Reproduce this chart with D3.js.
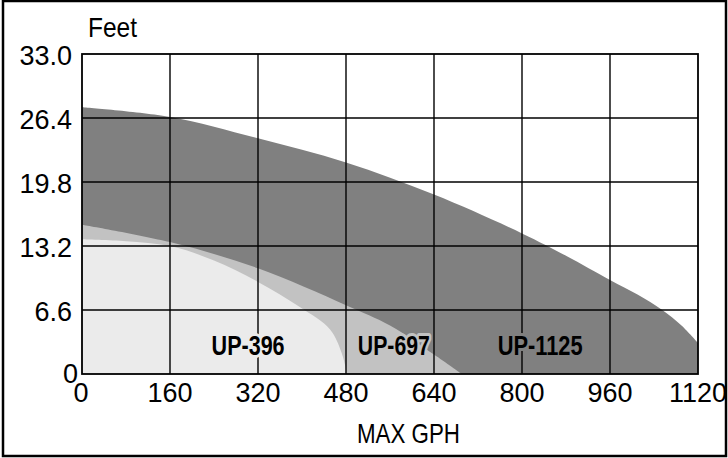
<!DOCTYPE html>
<html>
<head>
<meta charset="utf-8">
<script src="https://cdn.jsdelivr.net/npm/d3@7/dist/d3.min.js"></script>
<style>
  body { margin: 0; background: #fff; }
  svg { display: block; }
  text { font-family: "Liberation Sans", Arial, sans-serif; fill: #000; }
  .tick-label { font-size: 27px; }
</style>
</head>
<body>
<svg id="chart" width="728" height="458"></svg>
<script>
const X_TICKS = [0, 160, 320, 480, 640, 800, 960, 1120];
const Y_TICKS = [0, 6.6, 13.2, 19.8, 26.4, 33.0];

const MODELS = ["UP-396", "UP-697", "UP-1125"];

// performance curves (gph, feet)
const UP396_GPH  = [0, 80, 160, 240, 320, 396, 451, 472, 482];
const UP396_FEET = [13.9, 13.7, 13.2, 11.7, 9.5, 6.9, 4.6, 2.2, 0];

const UP697_GPH  = [0, 160, 320, 480, 560, 640, 690];
const UP697_FEET = [15.4, 13.6, 10.9, 7.1, 5.0, 2.0, 0];

const UP1125_GPH  = [0, 160, 320, 480, 640, 800, 880, 960, 1010, 1055, 1090, 1120];
const UP1125_FEET = [27.5, 26.5, 24.3, 21.8, 18.5, 14.5, 12.2, 9.7, 8.2, 6.6, 5.0, 3.2];

// where each model name sits (gph, feet) and its drawn width
const LABEL_GPH = [302, 567, 833];
const LABEL_FEET = [1.95, 1.95, 1.95];
const LABEL_WIDTH = [73, 72, 85];

const COLORS = ["#ebebeb", "#c2c2c2", "#808080"];

const MARGIN = { top: 54, right: 30, bottom: 84, left: 82 };
const FULL_WIDTH = 728;
const FULL_HEIGHT = 458;

const svg = d3.select("#chart");

const x = d3.scaleLinear().domain([0, 1120]).range([MARGIN.left, FULL_WIDTH - MARGIN.right]);
const y = d3.scaleLinear().domain([0, 33]).range([FULL_HEIGHT - MARGIN.bottom, MARGIN.top]);

// outer frame
svg.append("rect")
  .attr("x", 3).attr("y", 1)
  .attr("width", FULL_WIDTH - 5).attr("height", FULL_HEIGHT - 3)
  .attr("fill", "none").attr("stroke", "#000").attr("stroke-width", 2.5);

const series = [
  { gph: UP1125_GPH, feet: UP1125_FEET, color: COLORS[2] },
  { gph: UP697_GPH, feet: UP697_FEET, color: COLORS[1] },
  { gph: UP396_GPH, feet: UP396_FEET, color: COLORS[0] },
];

const area = d3.area()
  .curve(d3.curveCatmullRom.alpha(0.5))
  .x((d) => x(d[0]))
  .y0(y(0))
  .y1((d) => y(d[1]));

svg.append("g")
  .selectAll("path")
  .data(series)
  .join("path")
  .attr("d", (s) => area(d3.zip(s.gph, s.feet)))
  .attr("fill", (s) => s.color);

// grid
const grid = svg.append("g").attr("stroke", "#000").attr("stroke-width", 1.4);
grid.selectAll("line.v")
  .data(X_TICKS.slice(1, -1))
  .join("line")
  .attr("class", "v")
  .attr("x1", (d) => x(d)).attr("x2", (d) => x(d))
  .attr("y1", y(0)).attr("y2", y(33));
grid.selectAll("line.h")
  .data(Y_TICKS.slice(1, -1))
  .join("line")
  .attr("class", "h")
  .attr("x1", x(0)).attr("x2", x(1120))
  .attr("y1", (d) => y(d)).attr("y2", (d) => y(d));

svg.append("rect")
  .attr("x", x(0)).attr("y", y(33))
  .attr("width", x(1120) - x(0)).attr("height", y(0) - y(33))
  .attr("fill", "none").attr("stroke", "#000").attr("stroke-width", 1.8);

// model labels with halo in region colour
svg.append("g")
  .selectAll("text")
  .data(MODELS)
  .join("text")
  .attr("x", (d, i) => x(LABEL_GPH[i]))
  .attr("y", (d, i) => y(LABEL_FEET[i]))
  .attr("text-anchor", "middle")
  .attr("textLength", (d, i) => LABEL_WIDTH[i])
  .attr("lengthAdjust", "spacingAndGlyphs")
  .style("font-size", "27px")
  .style("font-weight", "bold")
  .style("paint-order", "stroke")
  .attr("stroke", (d, i) => COLORS[i])
  .attr("stroke-width", 6)
  .attr("stroke-linejoin", "round")
  .text((d) => d);

// y tick labels
svg.append("g")
  .selectAll("text")
  .data(Y_TICKS)
  .join("text")
  .attr("class", "tick-label")
  .attr("x", (d) => (d === 0 ? 78 : 72))
  .attr("y", (d) => y(d) + (d === 0 ? 9 : 11))
  .attr("text-anchor", "end")
  .text((d) => (d === 0 ? "0" : d3.format(".1f")(d)));

// x tick labels
svg.append("g")
  .selectAll("text")
  .data(X_TICKS)
  .join("text")
  .attr("class", "tick-label")
  .attr("x", (d) => x(d) + (d === 0 ? -1 : 0))
  .attr("y", 402)
  .attr("text-anchor", "middle")
  .text((d) => d);

svg.append("text")
  .attr("x", 88).attr("y", 37)
  .attr("textLength", 49)
  .attr("lengthAdjust", "spacingAndGlyphs")
  .style("font-size", "28px")
  .text("Feet");

svg.append("text")
  .attr("x", 357).attr("y", 443)
  .attr("textLength", 103)
  .attr("lengthAdjust", "spacingAndGlyphs")
  .style("font-size", "28px")
  .text("MAX GPH");
</script>
</body>
</html>
